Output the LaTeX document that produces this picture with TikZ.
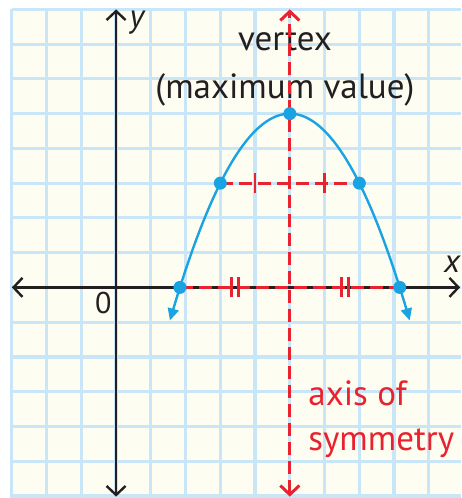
\documentclass[tikz,border=0pt]{standalone}
\usepackage{fontspec}
\setmainfont{PT Sans}
\usetikzlibrary{arrows.meta}
\definecolor{paper}{HTML}{FEFDF1}
\definecolor{gridblue}{HTML}{C8E6F8}
\definecolor{curveblue}{HTML}{1AA3E3}
\definecolor{axred}{HTML}{E8222E}
\definecolor{ink}{HTML}{231F20}
\tikzset{
  gridline/.style={gridblue, line width=3.2pt},
  axisline/.style={ink, line width=2.4pt, {Straight Barb[length=9pt,width=19pt]}-{Straight Barb[length=9pt,width=19pt]}},
  reddash/.style={axred, line width=3pt, dash pattern=on 13pt off 6pt},
  tickmark/.style={axred, line width=2.6pt},
  curve/.style={curveblue, line width=2.4pt},
  dot/.style={circle, fill=curveblue, inner sep=0pt, minimum size=13pt},
  lbl/.style={font=\fontsize{35}{42}\selectfont, text=ink, inner sep=0pt},
  redlbl/.style={font=\fontsize{35}{42}\selectfont, text=axred, inner sep=0pt, anchor=base west},
}
\begin{document}
\begin{tikzpicture}[x=34.75pt, y=34.75pt]
\useasboundingbox (-3.34,-6.06) rectangle (9.93,8.27);
\fill[white] (-3.34,-6.06) rectangle (9.93,8.27);
\fill[paper] (-3,-6.06) rectangle (9.93,8);
\foreach \i in {-3,...,9} \draw[gridline] (\i,-6.06) -- (\i,8);
\foreach \j in {-6,...,8} \draw[gridline] (-3,\j) -- (9.93,\j);
% axes
\coordinate (ytop) at (0,8);
\coordinate (ybot) at (0,-6.02);
\coordinate (xleft) at (-3,0);
\coordinate (xright) at (9.9,0);
\draw[axisline] (ybot) -- (ytop);
\draw[axisline] (xleft) -- (xright);
% points
\coordinate (V) at (5,5);
\coordinate (A) at (3,3);
\coordinate (B) at (7,3);
\coordinate (R1) at ({5-sqrt(10)},0);
\coordinate (R2) at ({5+sqrt(10)},0);
% labels
\node[lbl, anchor=base] (vt) at (4.86,6.81) {vertex};
\node[lbl, anchor=base] (mv) at (4.86,5.44) {(maximum value)};
\node[redlbl] (ax1) at (5.53,-3.39) {axis of};
\node[redlbl] (ax2) at (5.53,-4.68) {symmetry};
\node[lbl, font=\fontsize{33}{40}\selectfont\itshape] (ylab) at (0.6,7.63) {y};
\node[lbl, font=\fontsize{33}{40}\selectfont\itshape] (xlab) at (9.67,0.67) {x};
\node[lbl, font=\fontsize{30}{36}\selectfont] (olab) at (-0.37,-0.45) {0};
% axis of symmetry
\coordinate (stop) at (5,8);
\coordinate (sbot) at (5,-6.02);
\draw[reddash, {Straight Barb[length=9pt,width=19pt]}-{Straight Barb[length=9pt,width=19pt]}] (sbot) -- (stop);
\draw[reddash] (A) -- (B);
\draw[reddash] (R1) -- (R2);
\foreach \x in {4,6} \draw[tickmark] (\x,3) ++(0,-10pt) -- ++(0,20pt);
\foreach \x in {3.42,6.58} {
  \draw[tickmark] (\x,0) ++(-3.5pt,-10pt) -- ++(0,20pt);
  \draw[tickmark] (\x,0) ++(3.5pt,-10pt) -- ++(0,20pt);
}
% parabola
\draw[curve, {Triangle[length=12pt,width=11pt]}-{Triangle[length=12pt,width=11pt]}, domain=1.55:8.45, samples=80, smooth, variable=\t]
  plot (\t,{5-(\t-5)*(\t-5)/2});
\node[dot] (dV) at (V) {};
\node[dot] (dA) at (A) {};
\node[dot] (dB) at (B) {};
\node[dot] (dR1) at (R1) {};
\node[dot] (dR2) at (R2) {};
\end{tikzpicture}
\end{document}
